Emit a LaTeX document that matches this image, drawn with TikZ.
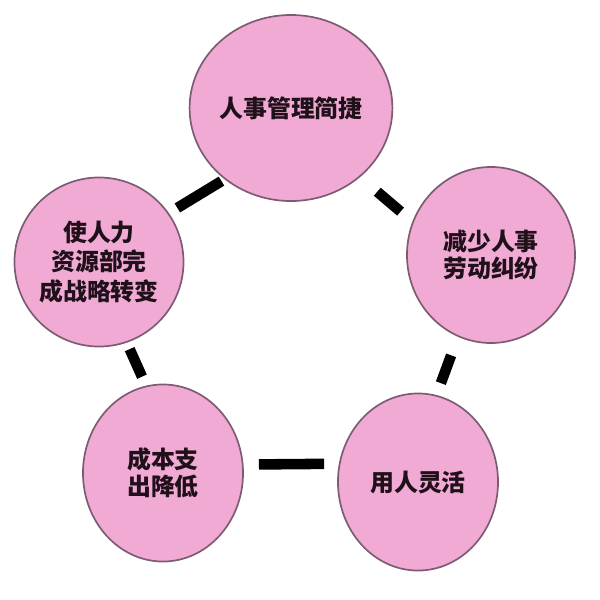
\documentclass[tikz,border=0pt]{standalone}
\usepackage{fontspec}
\newfontfamily\cjk{Noto Sans CJK SC}
\usetikzlibrary{shapes.geometric}
\definecolor{bubblefill}{RGB}{240,170,212}
\definecolor{bubbleedge}{RGB}{125,92,115}
\definecolor{bubbletext}{RGB}{32,16,26}
\tikzset{
  bubble/.style={ellipse, draw=bubbleedge, line width=1.2pt, fill=bubblefill,
    inner sep=0pt, align=center, text=bubbletext,
    font=\cjk\bfseries\fontsize{17}{21}\selectfont},
  link/.style={line width=7.5pt, black, line cap=butt}
}
\begin{document}
\begin{tikzpicture}[x=0.025cm, y=-0.025cm]
\useasboundingbox (0,0) rectangle (600,600);
\node[bubble, minimum width=4.4cm, minimum height=4.65cm] (T) at (291,108) {\raisebox{-4pt}{人事管理简捷}};
\node[bubble, minimum width=4.2cm, minimum height=4.4cm] (R) at (491,255) {\raisebox{-4pt}{\shortstack{减少人事\\劳动纠纷}}};
\node[bubble, minimum width=4.15cm, minimum height=4.225cm] (L) at (99,262) {使人力\\资源部完\\成战略转变};
\node[bubble, minimum width=4.0cm, minimum height=4.425cm] (BL) at (163,473) {\raisebox{-4pt}{\shortstack{成本支\\出降低}}};
\node[bubble, minimum width=4.0cm, minimum height=4.425cm] (BR) at (418,482) {\raisebox{-4pt}{用人灵活}};
\draw[link, shorten <=2.5pt, shorten >=7pt] (T.227) -- (L.35);
\draw[link, shorten <=16pt, shorten >=11pt] (T.315.7) -- (R.157.8);
\draw[link, shorten <=14pt, shorten >=9pt] (R.248.3) -- (BR.78.6);
\draw[link, shorten <=11pt, shorten >=10.5pt] (BL.6.6) -- (BR.167.9);
\draw[link, shorten <=5pt, shorten >=7pt] (L.289.3) -- (BL.101.8);
\end{tikzpicture}
\end{document}
